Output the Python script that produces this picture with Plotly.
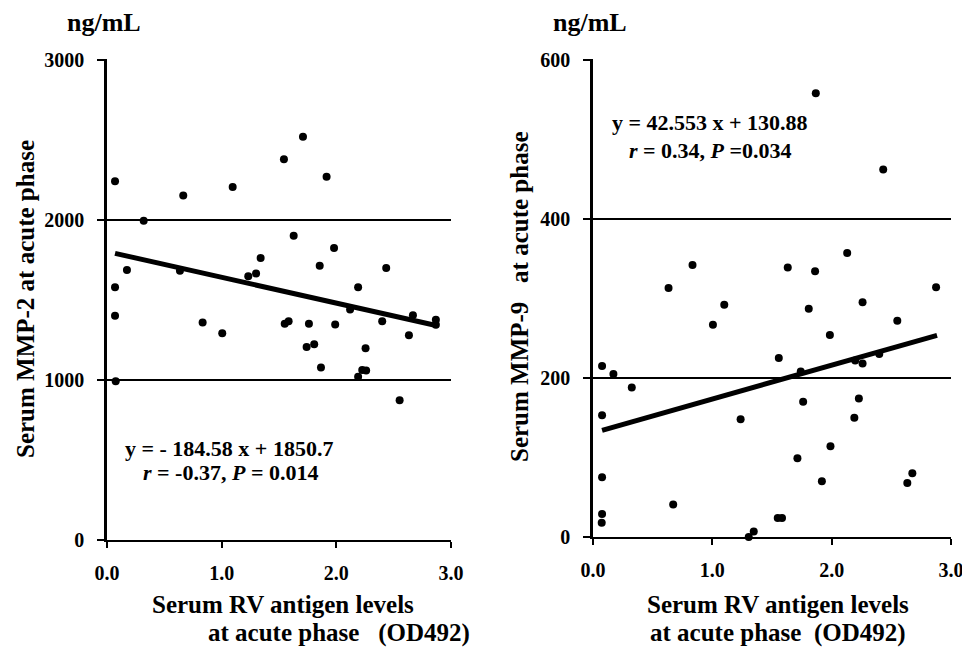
import plotly.graph_objects as go

# ---- data ----
mmp2_x = [0.07, 0.665, 1.096, 0.32, 1.543, 1.709, 1.915, 1.628, 1.98, 1.855,
          2.435, 2.19, 1.34, 1.30, 1.232, 0.636, 0.174, 0.07, 0.07, 2.12,
          2.668, 2.868, 2.40, 0.834, 1.55, 1.584, 1.761, 1.99, 1.005, 2.868,
          2.633, 1.741, 1.807, 2.255, 1.866, 2.226, 2.26, 2.19, 0.076, 2.552]
mmp2_y = [2240, 2151, 2205, 1994, 2378, 2519, 2268, 1900, 1824, 1713,
          1699, 1578, 1761, 1665, 1647, 1682, 1686, 1578, 1400, 1440,
          1404, 1375, 1366, 1358, 1350, 1366, 1350, 1346, 1292, 1345,
          1278, 1206, 1223, 1197, 1078, 1062, 1058, 1020, 992, 873]
mmp2_trend_x = [0.07, 2.88]
mmp2_trend_y = [1790, 1338]

mmp9_x = [1.867, 2.432, 2.13, 0.834, 1.632, 1.861, 0.633, 2.875, 1.10, 1.808,
          2.259, 2.55, 1.005, 1.985, 1.557, 0.076, 0.171, 0.325, 1.741, 2.197,
          2.259, 2.399, 2.228, 1.761, 0.076, 1.237, 2.19, 1.99, 1.713, 0.076,
          2.676, 2.634, 1.918, 0.672, 0.076, 0.073, 1.548, 1.584, 1.347, 1.305]
mmp9_y = [558, 462, 357, 342, 339, 334, 313, 314, 292, 287,
          295, 272, 267, 254, 225, 215, 205, 188, 208, 222,
          218, 230, 174, 170, 153, 148, 150, 114, 99, 75,
          80, 68, 70, 41, 29, 18, 24, 24, 7, 0]
mmp9_trend_x = [0.076, 2.883]
mmp9_trend_y = [134.1, 253.6]

x_ticks = [0, 1, 2, 3]
x_ticklabels = ["0.0", "1.0", "2.0", "3.0"]
y2_ticks = [0, 1000, 2000, 3000]
y9_ticks = [0, 200, 400, 600]

W, H = 962, 650
FONT = "Liberation Serif, Times New Roman, serif"

fig = go.Figure()

for xs, ys, tx, ty, xa, ya in [
    (mmp2_x, mmp2_y, mmp2_trend_x, mmp2_trend_y, "x", "y"),
    (mmp9_x, mmp9_y, mmp9_trend_x, mmp9_trend_y, "x2", "y2"),
]:
    fig.add_trace(go.Scatter(x=tx, y=ty, mode="lines", xaxis=xa, yaxis=ya,
                             line=dict(color="black", width=5), showlegend=False))
    fig.add_trace(go.Scatter(x=xs, y=ys, mode="markers", xaxis=xa, yaxis=ya,
                             marker=dict(color="black", size=8), showlegend=False,
                             cliponaxis=False))

tickfont = dict(family=FONT, size=20, color="black", weight="bold")
common_x = dict(range=[0, 3], tickvals=x_ticks, ticktext=x_ticklabels,
                showgrid=False, zeroline=False, showline=True, linecolor="black",
                linewidth=2, ticks="outside", ticklen=6, tickwidth=2, tickcolor="black",
                tickfont=tickfont, ticklabelstandoff=8, automargin=False,
                ticklabeloverflow="allow")
common_y = dict(showgrid=True, gridcolor="black", gridwidth=1.5, zeroline=False,
                showline=True, linecolor="black", linewidth=2.5, ticks="outside",
                ticklen=7, tickwidth=1.5, tickcolor="black", tickfont=tickfont,
                ticklabelstandoff=9, automargin=False, ticklabeloverflow="allow")

fig.update_layout(
    width=W, height=H, margin=dict(l=0, r=0, t=0, b=0, pad=0, autoexpand=False),
    autosize=False,
    paper_bgcolor="white", plot_bgcolor="white",
    xaxis=dict(common_x, domain=[107 / W, 451 / W], anchor="y"),
    yaxis=dict(common_y, domain=[1 - 540 / H, 1 - 59 / H], range=[0, 3004],
               tickvals=y2_ticks, anchor="x"),
    xaxis2=dict(common_x, domain=[593 / W, 951 / W], anchor="y2"),
    yaxis2=dict(common_y, domain=[1 - 537 / H, 1 - 59 / H], range=[0, 601],
                tickvals=y9_ticks, anchor="x2"),
)

def ann(text, px, py, size, angle=0, xanchor="center"):
    fig.add_annotation(text=text, x=px / W, y=1 - py / H, xref="paper", yref="paper",
                       showarrow=False, textangle=angle, xanchor=xanchor, yanchor="middle",
                       font=dict(family=FONT, size=size, color="black", weight="bold"))

ann("ng/mL", 104, 22, 26)
ann("ng/mL", 590, 22, 26)
ann("Serum MMP-2 at acute phase", 25, 299, 25, angle=-90)
ann("Serum MMP-9\u00a0\u00a0\u00a0at acute phase", 519, 297, 25, angle=-90)
ann("Serum RV antigen levels", 283, 604, 25)
ann("at acute phase\u00a0\u00a0\u00a0(OD492)", 339, 633, 25)
ann("Serum RV antigen levels", 778, 604, 25)
ann("at acute phase\u00a0\u00a0(OD492)", 778, 633, 25)
ann("y = - 184.58 x + 1850.7", 229, 448, 22)
ann("<i>r</i> = -0.37, <i>P</i> = 0.014", 230, 473, 22)
ann("y = 42.553 x + 130.88", 710, 123, 22)
ann("<i>r</i> = 0.34, <i>P</i> =0.034", 710, 150, 22)

fig.write_html("out.html",
               post_script="document.body.style.margin='0px';document.body.style.overflow='hidden';")
